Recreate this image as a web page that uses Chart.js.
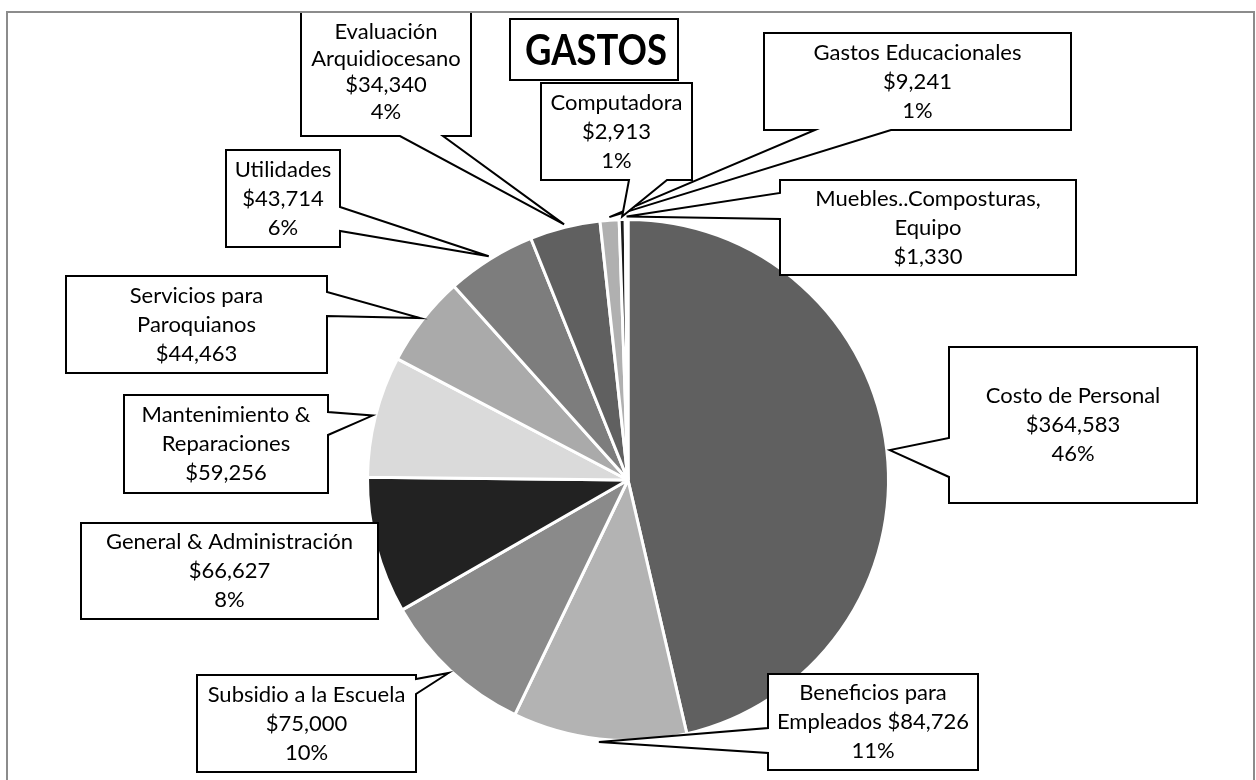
<!DOCTYPE html>
<html>
<head>
<meta charset="utf-8">
<title>GASTOS</title>
<script src="https://cdn.jsdelivr.net/npm/chart.js@4/dist/chart.umd.min.js"></script>
<style>
  body { margin: 0; background: #fff; }
  canvas { display: block; }
</style>
</head>
<body>
<canvas id="gastos" width="1256" height="780"></canvas>
<script>
// datos
const categorias = [
    "Costo de Personal",
    "Beneficios para\nEmpleados",
    "Subsidio a la Escuela",
    "General & Administración",
    "Mantenimiento &\nReparaciones",
    "Servicios para\nParoquianos",
    "Utilidades",
    "Evaluación\nArquidiocesano",
    "Gastos Educacionales",
    "Computadora",
    "Muebles..Composturas,\nEquipo",
];
const montos = [364583, 84726, 75000, 66627, 59256, 44463, 43714, 34340, 9241, 2913, 1330];
const porcentajes = ["46%", "11%", "10%", "8%", "", "", "6%", "4%", "1%", "1%", ""];
const colores = ["#606060", "#b3b3b3", "#8a8a8a", "#222222", "#dadada", "#aaaaaa",
                 "#7d7d7d", "#606060", "#b0b0b0", "#1a1a1a", "#d9d9d9"];

// posicion de cada cuadro (x, y, ancho, alto) y de la punta
const cuadros = [
    { x: 949, y: 347, w: 248, h: 156, lado: "left", a: 438, b: 477 },
    { x: 768, y: 674, w: 210, h: 96, lado: "left", a: 728, b: 753, mismaLinea: true },
    { x: 197, y: 675, w: 219, h: 97, lado: "right", a: 679, b: 694 },
    { x: 81, y: 523, w: 297, h: 96, lado: null },
    { x: 124, y: 395, w: 204, h: 98, lado: "right", a: 412, b: 435 },
    { x: 66, y: 276, w: 261, h: 97, lado: "right", a: 292, b: 316 },
    { x: 226, y: 150, w: 114, h: 97, lado: "right", a: 207, b: 231 },
    { x: 301, y: 0, w: 170, h: 136, lado: "bottom", a: 400, b: 443, paso: 26.5, centro: 72 },
    { x: 764, y: 33, w: 307, h: 97, lado: "bottom", a: 815, b: 891 },
    { x: 541, y: 83, w: 151, h: 97, lado: "bottom", a: 629, b: 667 },
    { x: 780, y: 180, w: 296, h: 95, lado: "left", a: 193, b: 219 },
];

function dinero(v) {
    return "$" + v.toLocaleString("en-US");
}

function textoCuadro(i) {
    const lineas = categorias[i].split("\n");
    if (cuadros[i].mismaLinea) {
        lineas[lineas.length - 1] += " " + dinero(montos[i]);
    } else {
        lineas.push(dinero(montos[i]));
    }
    if (porcentajes[i]) lineas.push(porcentajes[i]);
    return lineas;
}

function rutaCuadro(ctx, c, punta) {
    const x0 = c.x, y0 = c.y, x1 = c.x + c.w, y1 = c.y + c.h;
    ctx.beginPath();
    ctx.moveTo(x0, y0);
    ctx.lineTo(x1, y0);
    if (c.lado === "right") {
        ctx.lineTo(x1, c.a);
        ctx.lineTo(punta.x, punta.y);
        ctx.lineTo(x1, c.b);
    }
    ctx.lineTo(x1, y1);
    if (c.lado === "bottom") {
        ctx.lineTo(c.b, y1);
        ctx.lineTo(punta.x, punta.y);
        ctx.lineTo(c.a, y1);
    }
    ctx.lineTo(x0, y1);
    if (c.lado === "left") {
        ctx.lineTo(x0, c.b);
        ctx.lineTo(punta.x, punta.y);
        ctx.lineTo(x0, c.a);
    }
    ctx.closePath();
}

const etiquetas = {
    id: "etiquetas",
    beforeDraw(chart) {
        const ctx = chart.ctx;
        ctx.save();
        ctx.fillStyle = "#fff";
        ctx.fillRect(0, 0, chart.width, chart.height);
        ctx.restore();
    },
    afterDatasetsDraw(chart) {
        const ctx = chart.ctx;
        const arcos = chart.getDatasetMeta(0).data;
        ctx.save();
        ctx.beginPath();
        ctx.rect(8, 13, 1245, 780);
        ctx.clip();
        ctx.lineJoin = "miter";
        arcos.forEach(function (arco, i) {
            const c = cuadros[i];
            const medio = (arco.startAngle + arco.endAngle) / 2;
            const r = arco.outerRadius + 3;
            const punta = { x: arco.x + Math.cos(medio) * r, y: arco.y + Math.sin(medio) * r };
            rutaCuadro(ctx, c, punta);
            ctx.fillStyle = "#fff";
            ctx.fill();
            ctx.strokeStyle = "#000";
            ctx.lineWidth = 2;
            ctx.stroke();

            const lineas = textoCuadro(i);
            const paso = c.paso || 29;
            const cy = c.centro || c.y + c.h / 2;
            ctx.fillStyle = "#000";
            ctx.font = "22px Lato";
            ctx.textAlign = "center";
            ctx.textBaseline = "middle";
            lineas.forEach(function (t, k) {
                ctx.fillText(t, c.x + c.w / 2, cy + (k - (lineas.length - 1) / 2) * paso);
            });
        });

        // titulo
        ctx.fillStyle = "#fff";
        ctx.fillRect(510, 19, 168, 61);
        ctx.strokeStyle = "#000";
        ctx.lineWidth = 2;
        ctx.strokeRect(510, 19, 168, 61);
        ctx.fillStyle = "#000";
        ctx.font = "bold 42px Lato";
        ctx.textAlign = "center";
        ctx.textBaseline = "middle";
        ctx.fillText("GASTOS", 596, 51, 142);
        ctx.restore();

        // marco
        ctx.save();
        ctx.strokeStyle = "#8c8c8c";
        ctx.lineWidth = 2;
        ctx.strokeRect(7, 12, 1247, 800);
        ctx.restore();
    },
};

new Chart(document.getElementById("gastos"), {
    type: "pie",
    data: {
        labels: categorias,
        datasets: [
            {
                data: montos,
                backgroundColor: colores,
                borderColor: "#fff",
                borderWidth: 3,
            },
        ],
    },
    options: {
        responsive: false,
        animation: false,
        layout: {
            padding: { top: 218, bottom: 38, left: 366, right: 366 },
        },
        plugins: {
            legend: { display: false },
            tooltip: { enabled: false },
        },
    },
    plugins: [etiquetas],
});
</script>
</body>
</html>
